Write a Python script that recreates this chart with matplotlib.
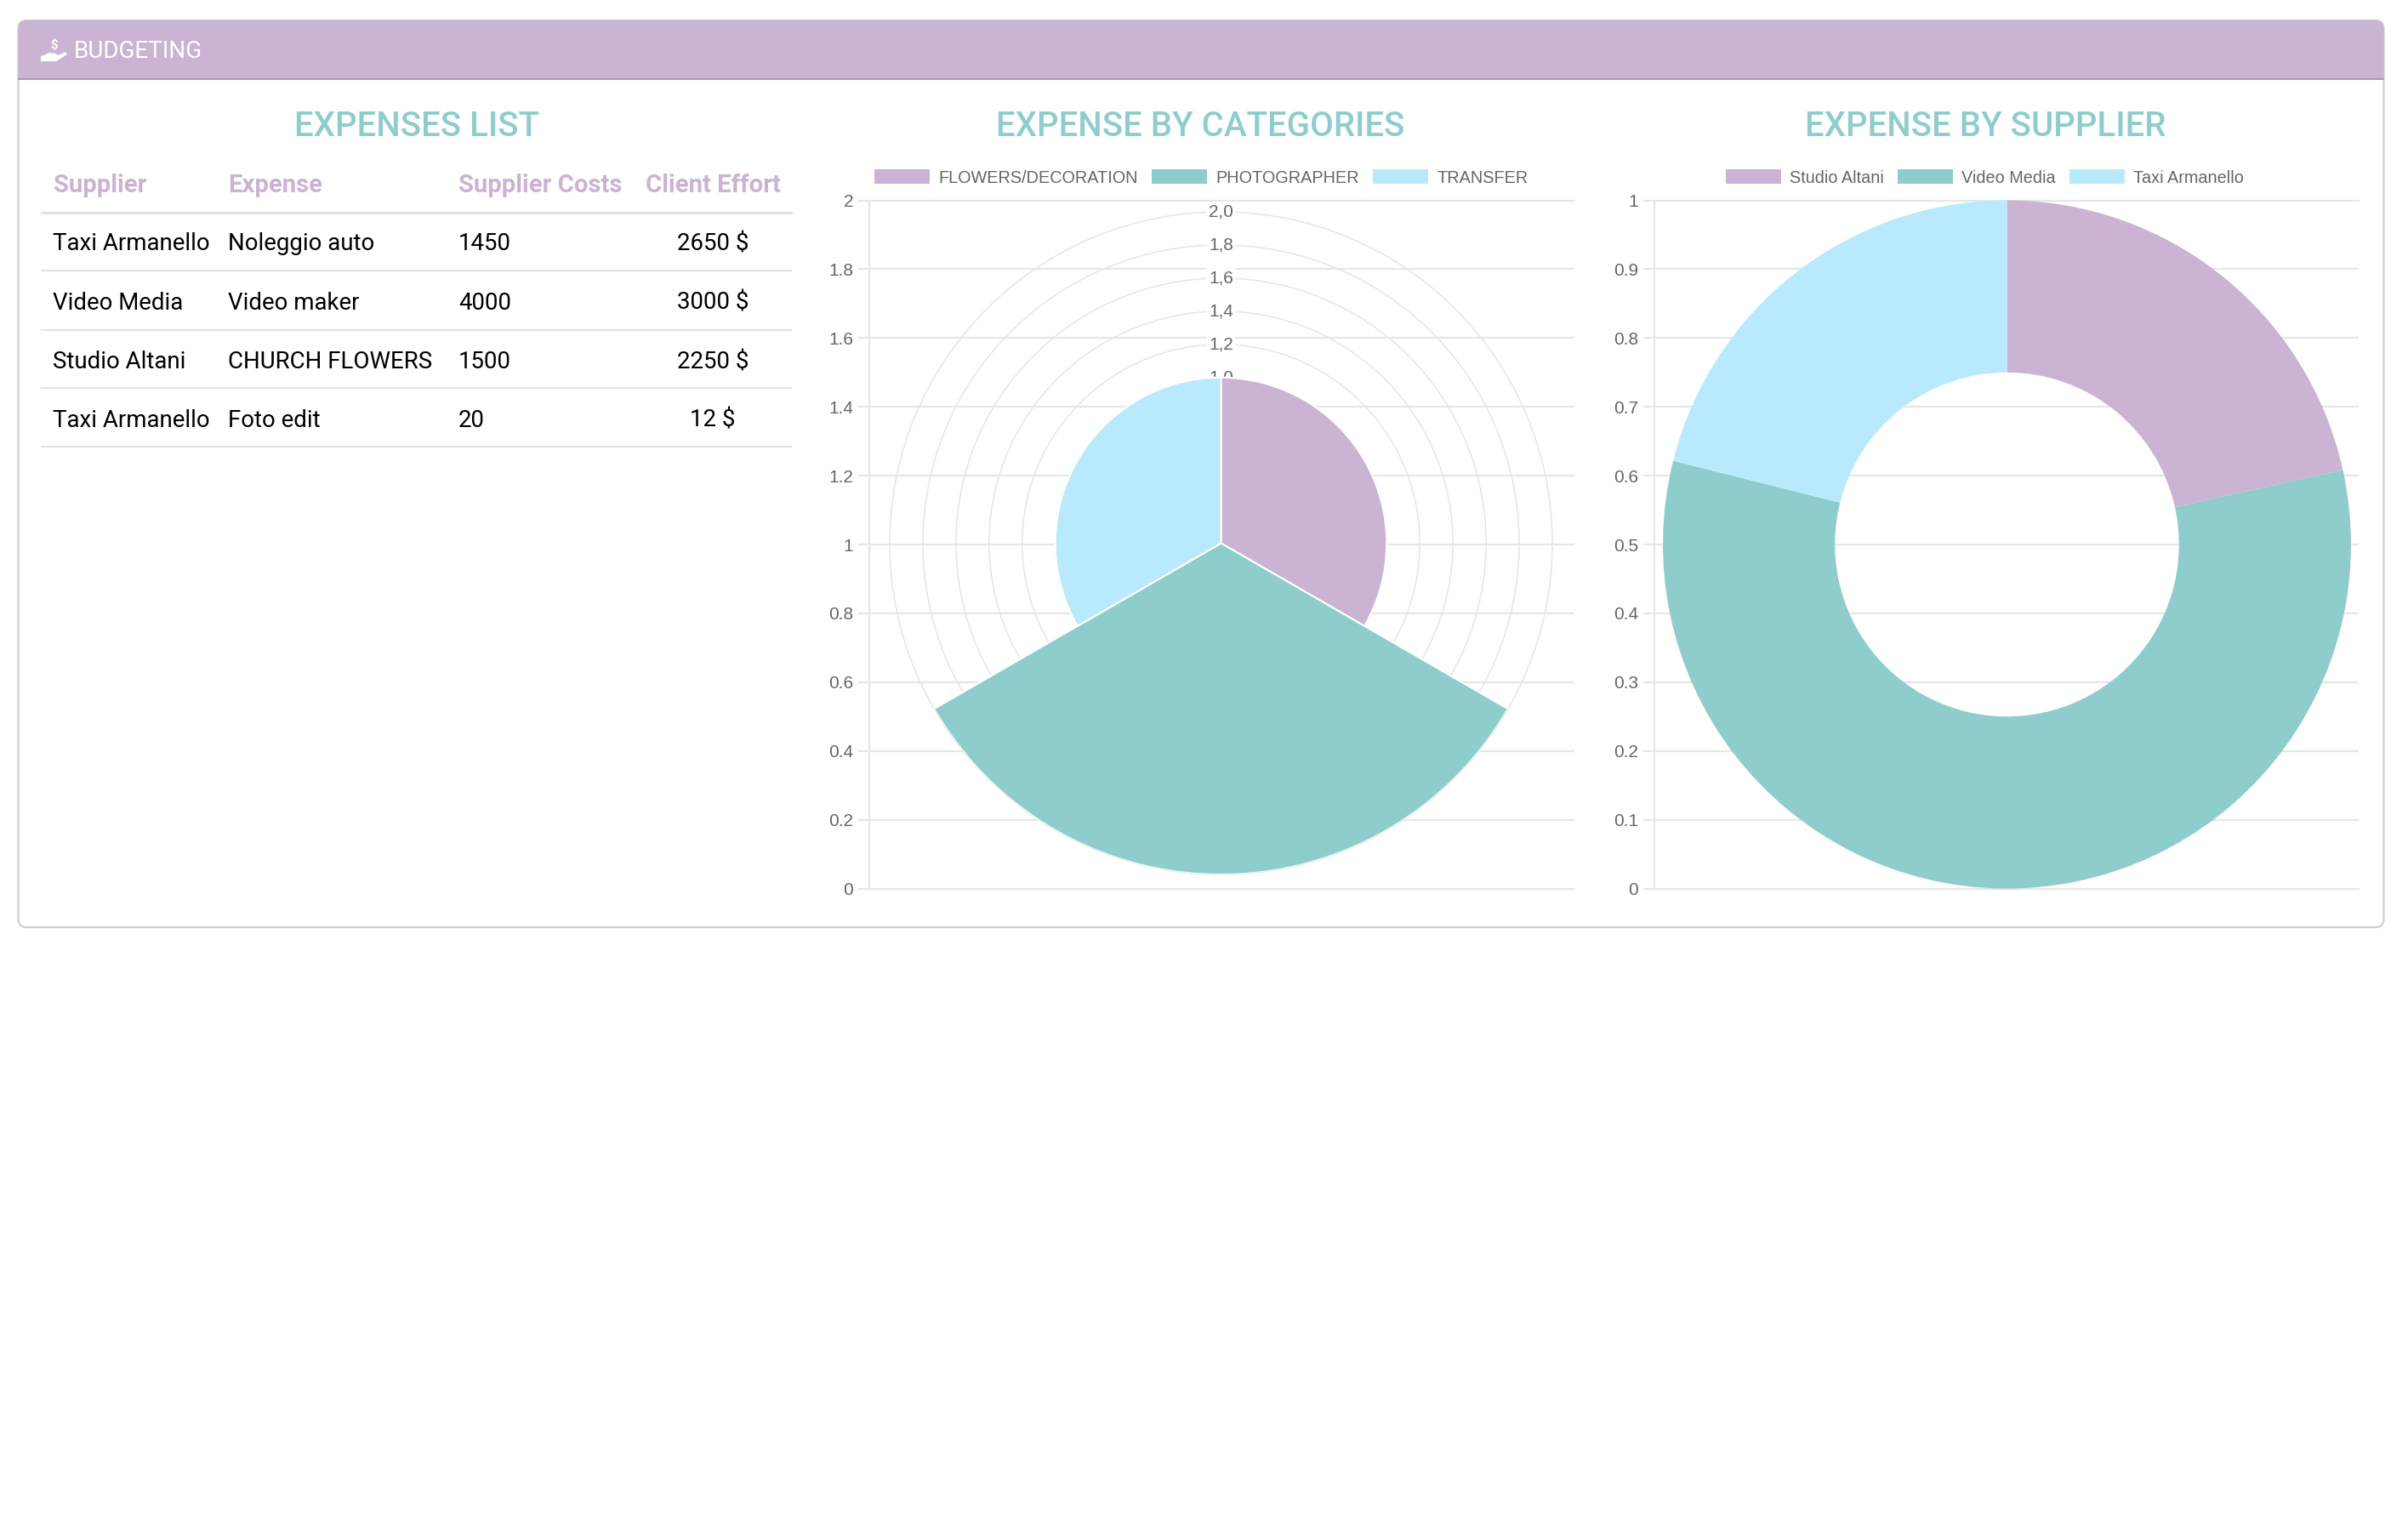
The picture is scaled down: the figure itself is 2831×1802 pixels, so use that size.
import numpy as np
import matplotlib
matplotlib.use("Agg")
import matplotlib.pyplot as plt
from matplotlib.patches import FancyBboxPatch, Patch, Polygon, Rectangle

W, H = 2831, 1802

# table
table_cols = ['Supplier', 'Expense', 'Supplier Costs', 'Client Effort']
suppliers = ['Taxi Armanello', 'Video Media', 'Studio Altani', 'Taxi Armanello']
expenses = ['Noleggio auto', 'Video maker', 'CHURCH FLOWERS', 'Foto edit']
supplier_costs = ['1450', '4000', '1500', '20']
client_effort = ['2650 $', '3000 $', '2250 $', '12 $']

# polar chart
cat_labels = ['FLOWERS/DECORATION', 'PHOTOGRAPHER', 'TRANSFER']
cat_values = [1, 2, 1]
cat_yticks = [0, 0.2, 0.4, 0.6, 0.8, 1, 1.2, 1.4, 1.6, 1.8, 2]
ring_ticks = [0.2, 0.4, 0.6, 0.8, 1.0, 1.2, 1.4, 1.6, 1.8, 2.0]

# doughnut chart
sup_labels = ['Studio Altani', 'Video Media', 'Taxi Armanello']
sup_values = [1500, 4000, 1470]
sup_yticks = [0, 0.1, 0.2, 0.3, 0.4, 0.5, 0.6, 0.7, 0.8, 0.9, 1]

PURPLE = '#CAB3D3'
TEAL = '#8FCDCC'
BLUE = '#B8E9FD'
colors = [PURPLE, TEAL, BLUE]
GRID = '#E6E6E6'
TICK = '#666666'
UI_FONT = 'Roboto'
CHART_FONT = 'Liberation Sans'


def box(x0, y0, x1, y1):
    # pixels from top-left -> figure fractions
    return [x0 / W, 1 - y1 / H, (x1 - x0) / W, (y1 - y0) / H]


def cartesian(x0, x1, y0, y1, ticks, ymax):
    ax = fig.add_axes(box(x0, y0, x1, y1), zorder=1)
    ax.set_ylim(0, ymax)
    ax.set_xticks([])
    ax.set_yticks(ticks)
    ax.set_yticklabels(['%g' % t for t in ticks], family=CHART_FONT, fontsize=15, color=TICK)
    ax.tick_params(axis='y', length=9.4, width=1.5, color=GRID, pad=4.2)
    ax.grid(axis='y', color=GRID, lw=1.5)
    ax.set_axisbelow(True)
    ax.spines['right'].set_visible(False)
    for s in ['left', 'bottom', 'top']:
        ax.spines[s].set_color(GRID)
        ax.spines[s].set_linewidth(1.5)
    ax.patch.set_alpha(0)
    return ax


def legend(ax, labels, xc):
    handles = [Patch(fc=c, ec='none') for c in colors]
    ax.legend(handles, labels, ncols=3, loc='center', bbox_to_anchor=(xc / W, 1 - 209 / H),
              bbox_transform=fig.transFigure, frameon=False, borderpad=0, borderaxespad=0,
              prop={'family': CHART_FONT, 'size': 14.3}, labelcolor=TICK,
              handlelength=3.3, handleheight=0.91, handletextpad=0.5, columnspacing=0.8)


fig = plt.figure(figsize=(W / 100, H / 100), dpi=100, facecolor='white')

# card background, pixel coordinates
bg = fig.add_axes([0, 0, 1, 1], zorder=0)
bg.set_xlim(0, W)
bg.set_ylim(H, 0)
bg.axis('off')
card = FancyBboxPatch((21.5, 24), 2781, 1066, boxstyle='round,pad=0,rounding_size=10',
                      fc='white', ec='#CFCFCF', lw=1.6)
bg.add_patch(card)
header = Rectangle((21, 23), 2783, 70, fc=PURPLE, ec='none')
bg.add_patch(header)
header.set_clip_path(card)
bg.plot([22, 2802], [93, 93], color='#A998B3', lw=1.4)

# hand icon
bg.add_patch(Polygon([(48, 66), (48, 72), (66, 72), (79, 64), (77, 61), (68, 65), (66, 63),
                      (57, 62), (52, 65)], fc='white', ec='none'))
bg.text(64, 53, '$', color='white', fontsize=11, family=UI_FONT, weight='bold', ha='center', va='center')
bg.text(87, 60, 'BUDGETING', color='white', fontsize=20, family=UI_FONT, ha='left', va='center')

# titles
title_kw = dict(color=TEAL, fontsize=28.9, family=UI_FONT, weight='medium', ha='center', va='center')
bg.text(490, 149.5, 'EXPENSES LIST', **title_kw)
bg.text(1411.5, 149.5, 'EXPENSE BY CATEGORIES', **title_kw)
bg.text(2334.5, 149.5, 'EXPENSE BY SUPPLIER', **title_kw)

# table
col_x = [62.5, 268.5, 539, 838]
col_ha = ['left', 'left', 'left', 'center']
row_y = [287, 356, 425.5, 494]
line_y = [250, 318, 387.5, 456, 525]
for x, ha, name in zip(col_x, col_ha, table_cols):
    bg.text(x, 218.5, name, color=PURPLE, fontsize=21.1, family=UI_FONT, weight='bold', ha=ha, va='center')
rows = zip(suppliers, expenses, supplier_costs, client_effort)
for y, row in zip(row_y, rows):
    for x, ha, cell in zip(col_x, col_ha, row):
        bg.text(x, y, cell, color='black', fontsize=19.9, family=UI_FONT, ha=ha, va='center')
for i, y in enumerate(line_y):
    bg.plot([49, 930], [y, y], color='#DEE2E6', lw=1.5 if i else 2.2)

# polar area chart
ax1 = cartesian(1022, 1851, 235.5, 1044.5, cat_yticks, 2)
legend(ax1, cat_labels, 1412)

R = 389.5
cx, cy = 1435.5, 638.5
pol = fig.add_axes(box(cx - R, cy - R, cx + R, cy + R), projection='polar', zorder=2)
pol.patch.set_alpha(0)
pol.set_theta_zero_location('N')
pol.set_theta_direction(-1)
pol.set_ylim(0, 2)
pol.set_xticks([])
pol.set_yticks(ring_ticks)
pol.set_yticklabels([])
pol.grid(axis='y', color=GRID, lw=1.1)
for gl in pol.yaxis.get_gridlines():
    gl.set_clip_on(False)
pol.set_axisbelow(True)
pol.spines['polar'].set_visible(False)
for t in ring_ticks:
    pol.text(0, t, ('%.1f' % t).replace('.', ','), ha='center', va='center', zorder=0.8,
             family=CHART_FONT, fontsize=15, color=TICK,
             bbox=dict(fc='white', ec='none', pad=1.5))
angles = np.arange(len(cat_values)) * 2 * np.pi / len(cat_values)
pol.bar(angles, cat_values, width=2 * np.pi / len(cat_values), align='edge',
        color=colors, edgecolor='white', linewidth=1.5, zorder=2)

# doughnut chart
ax2 = cartesian(1945, 2773, 235.5, 1044.5, sup_yticks, 1)
legend(ax2, sup_labels, 2333.5)

R = 404.5
cx, cy = 2359.5, 640
dn = fig.add_axes(box(cx - R, cy - R, cx + R, cy + R), zorder=2)
dn.patch.set_alpha(0)
dn.pie(sup_values, colors=colors, startangle=90, counterclock=False, radius=1,
       wedgeprops=dict(width=0.5, edgecolor='none'))
dn.set_xlim(-1, 1)
dn.set_ylim(-1, 1)

fig.savefig('out.png', dpi=100, facecolor='white')
